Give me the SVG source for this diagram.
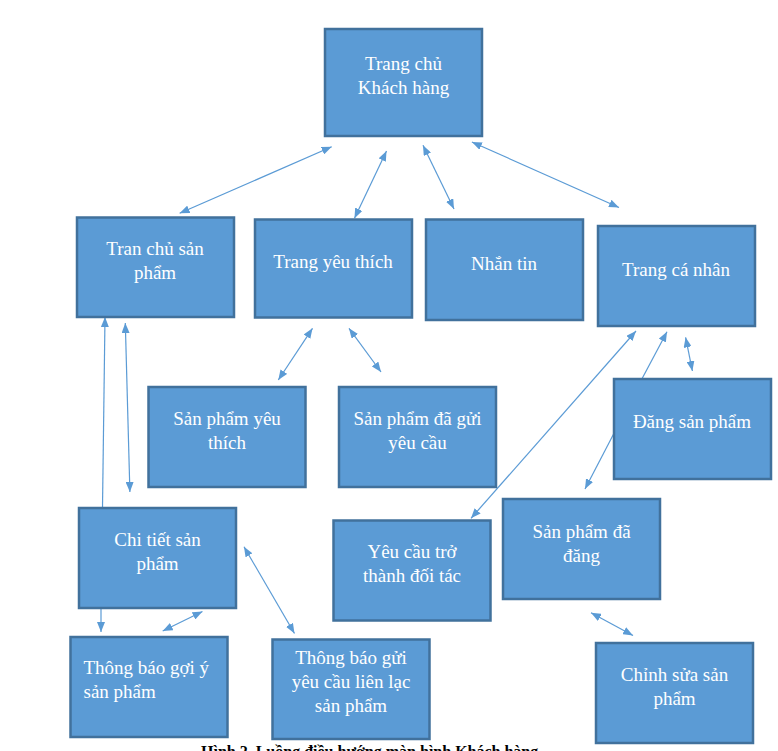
<svg xmlns="http://www.w3.org/2000/svg" width="778" height="751" viewBox="0 0 778 751">
<style>
.box{fill:#5b9bd5;stroke:#41719c;stroke-width:2.5}
.t{fill:#ffffff;font-family:"Liberation Serif","Times New Roman",serif;font-size:19px;text-anchor:middle}
.tl{text-anchor:start}
.c{stroke:#5b9bd5;stroke-width:1.2;fill:none}
.cap{fill:#000;font-family:"Liberation Serif","Times New Roman",serif;font-size:16px;font-weight:bold}
</style>
<defs>
<marker id="ah" viewBox="0 0 10 8" refX="10" refY="4" markerWidth="10" markerHeight="8" markerUnits="userSpaceOnUse" orient="auto-start-reverse">
<path d="M0,0 L10,4 L0,8 z" fill="#5b9bd5"/>
</marker>
</defs>
<rect width="778" height="751" fill="#ffffff"/>

<g id="connectors">
<line class="c" x1="331.7" y1="146.7" x2="179.6" y2="213.3" marker-start="url(#ah)" marker-end="url(#ah)"/>
<line class="c" x1="386.5" y1="151" x2="354.5" y2="218.3" marker-start="url(#ah)" marker-end="url(#ah)"/>
<line class="c" x1="423" y1="145.3" x2="454" y2="209" marker-start="url(#ah)" marker-end="url(#ah)"/>
<line class="c" x1="471.9" y1="142" x2="619" y2="207.5" marker-start="url(#ah)" marker-end="url(#ah)"/>
<line class="c" x1="102.5" y1="507" x2="105" y2="317" marker-end="url(#ah)"/>
<line class="c" x1="125.3" y1="323" x2="129.9" y2="492" marker-start="url(#ah)" marker-end="url(#ah)"/>
<line class="c" x1="312.5" y1="328.3" x2="278.3" y2="380" marker-start="url(#ah)" marker-end="url(#ah)"/>
<line class="c" x1="349" y1="328.3" x2="381" y2="372" marker-start="url(#ah)" marker-end="url(#ah)"/>
<line class="c" x1="636" y1="331" x2="471" y2="518.3" marker-start="url(#ah)" marker-end="url(#ah)"/>
<line class="c" x1="642" y1="378.7" x2="667" y2="331.7" marker-end="url(#ah)"/>
<line class="c" x1="685.6" y1="337.3" x2="692.4" y2="371" marker-start="url(#ah)" marker-end="url(#ah)"/>
<line class="c" x1="614" y1="433.3" x2="585" y2="489" marker-end="url(#ah)"/>
<line class="c" x1="244" y1="546.7" x2="294.5" y2="633.5" marker-start="url(#ah)" marker-end="url(#ah)"/>
<line class="c" x1="101" y1="608.3" x2="101" y2="632" marker-end="url(#ah)"/>
<line class="c" x1="202.5" y1="611.5" x2="162.7" y2="631" marker-start="url(#ah)" marker-end="url(#ah)"/>
<line class="c" x1="591" y1="612.7" x2="633" y2="635.5" marker-start="url(#ah)" marker-end="url(#ah)"/>
</g>

<g id="trang-chu-khach-hang">
<rect class="box" x="325" y="29" width="157" height="107"/>
<text class="t" x="403.5" y="70">Trang chủ</text>
<text class="t" x="403.5" y="93.5">Khách hàng</text>
</g>
<g id="tran-chu-san-pham">
<rect class="box" x="77" y="217.5" width="157" height="99.5"/>
<text class="t" x="155" y="255">Tran chủ sản</text>
<text class="t" x="155" y="278.5">phẩm</text>
</g>
<g id="trang-yeu-thich">
<rect class="box" x="255" y="219.5" width="157" height="98"/>
<text class="t" x="333" y="268">Trang yêu thích</text>
</g>
<g id="nhan-tin">
<rect class="box" x="426" y="219.5" width="157" height="100.5"/>
<text class="t" x="504" y="270">Nhắn tin</text>
</g>
<g id="trang-ca-nhan">
<rect class="box" x="598" y="226" width="157" height="100"/>
<text class="t" x="676" y="276">Trang cá nhân</text>
</g>
<g id="san-pham-yeu-thich">
<rect class="box" x="148.5" y="387" width="157" height="100"/>
<text class="t" x="227" y="425">Sản phẩm yêu</text>
<text class="t" x="227" y="448.5">thích</text>
</g>
<g id="san-pham-da-gui-yeu-cau">
<rect class="box" x="339" y="387" width="157" height="100"/>
<text class="t" x="417.5" y="425">Sản phẩm đã gửi</text>
<text class="t" x="417.5" y="448.5">yêu cầu</text>
</g>
<g id="dang-san-pham">
<rect class="box" x="614" y="379" width="157" height="100"/>
<text class="t" x="692" y="428">Đăng sản phẩm</text>
</g>
<g id="chi-tiet-san-pham">
<rect class="box" x="79" y="508" width="157" height="100"/>
<text class="t" x="157.5" y="546">Chi tiết sản</text>
<text class="t" x="157.5" y="570">phẩm</text>
</g>
<g id="yeu-cau-tro-thanh-doi-tac">
<rect class="box" x="333.5" y="520.5" width="157" height="100"/>
<text class="t" x="412" y="558">Yêu cầu trở</text>
<text class="t" x="412" y="582">thành đối tác</text>
</g>
<g id="san-pham-da-dang">
<rect class="box" x="503" y="499" width="157" height="100"/>
<text class="t" x="581.5" y="538">Sản phẩm đã</text>
<text class="t" x="581.5" y="561.5">đăng</text>
</g>
<g id="thong-bao-goi-y-san-pham">
<rect class="box" x="70.5" y="637" width="157" height="100"/>
<text class="t tl" x="83.5" y="674">Thông báo gợi ý</text>
<text class="t tl" x="83.5" y="698">sản phẩm</text>
</g>
<g id="thong-bao-gui-yeu-cau-lien-lac">
<rect class="box" x="272.5" y="639.5" width="157" height="99.5"/>
<text class="t" x="351" y="664">Thông báo gửi</text>
<text class="t" x="351" y="688">yêu cầu liên lạc</text>
<text class="t" x="351" y="712">sản phẩm</text>
</g>
<g id="chinh-sua-san-pham">
<rect class="box" x="596" y="643" width="157" height="100"/>
<text class="t" x="674.5" y="681">Chỉnh sửa sản</text>
<text class="t" x="674.5" y="705">phẩm</text>
</g>

<text class="cap" x="201" y="757">Hình 2. Luồng điều hướng màn hình Khách hàng</text>
</svg>
